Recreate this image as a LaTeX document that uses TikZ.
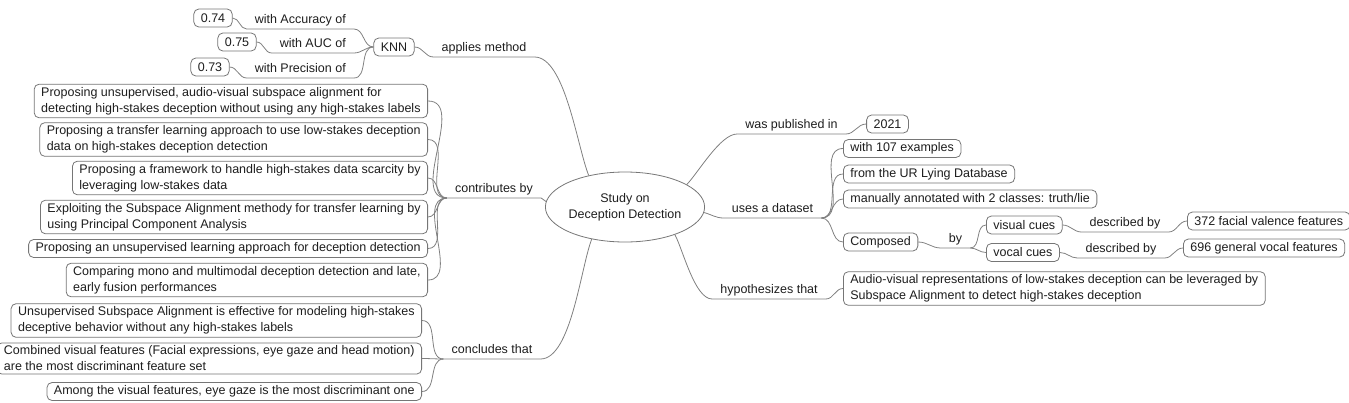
\documentclass[tikz,border=0pt]{standalone}
\usepackage{fontspec}
\setmainfont{Liberation Sans}
\usetikzlibrary{shapes.geometric}
\definecolor{linegray}{RGB}{128,128,128}
\definecolor{boxgray}{RGB}{118,118,118}
\definecolor{inkgray}{RGB}{30,30,30}
\tikzset{every node/.style={font=\fontsize{12.5}{16}\selectfont, text=inkgray},
    concept/.style={draw=boxgray, line width=0.8pt, rounded corners=5pt, fill=white,
        align=left, inner xsep=7pt, inner ysep=3pt, minimum height=18pt},
    linkword/.style={inner xsep=8pt, inner ysep=2pt, text height=9pt, text depth=3pt},
    hub/.style={ellipse, draw=boxgray, line width=0.8pt, minimum width=135pt,
        minimum height=70pt, inner sep=0pt, align=center},
    branch/.style={draw=linegray, line width=0.8pt},
    }

\begin{document}
\begin{tikzpicture}[x=1pt,y=1pt]
\useasboundingbox (0,0) rectangle (1349,-402);
\node[hub] (study) at (625,-207) {Study on\\Deception Detection};
% left: method
\node[concept] (knn) at (394,-47) {KNN};
\node[linkword, anchor=south east] (acc) at (354,-29) {with Accuracy of};
\node[concept] (v074) at (213,-18) {0.74};
\node[linkword, anchor=south east] (auc) at (354,-53) {with AUC of};
\node[concept] (v075) at (237,-42) {0.75};
\node[linkword, anchor=south east] (prec) at (354,-78) {with Precision of};
\node[concept] (v073) at (210,-67) {0.73};
\node[linkword, anchor=south] (applies) at (484,-57) {applies method};
% left: contributions
\node[linkword, anchor=south] (contrib) at (494,-198) {contributes by};
\node[concept, anchor=east] (c1) at (428,-101) {Proposing unsupervised, audio-visual subspace alignment for\\detecting high-stakes deception without using any high-stakes labels};
\node[concept, anchor=east] (c2) at (428,-139.5) {Proposing a transfer learning approach to use low-stakes deception\\data on high-stakes deception detection};
\node[concept, anchor=east] (c3) at (428,-178) {Proposing a framework to handle high-stakes data scarcity by\\leveraging low-stakes data};
\node[concept, anchor=east] (c4) at (428,-217) {Exploiting the Subspace Alignment methody for transfer learning by\\using Principal Component Analysis};
\node[concept, anchor=east] (c5) at (428,-248.5) {Proposing an unsupervised learning approach for deception detection};
\node[concept, anchor=east] (c6) at (428,-280) {Comparing mono and multimodal deception detection and late,\\early fusion performances};
% left: conclusions
\node[linkword, anchor=south] (concl) at (492,-359) {concludes that};
\node[concept, anchor=east] (k1) at (422,-320.5) {Unsupervised Subspace Alignment is effective for modeling high-stakes\\deceptive behavior without any high-stakes labels};
\node[concept, anchor=east] (k2) at (422,-358.5) {Combined visual features (Facial expressions, eye gaze and head motion)\\are the most discriminant feature set};
\node[concept, anchor=east] (k3) at (422,-391.5) {Among the visual features, eye gaze is the most discriminant one};
% right: year and dataset
\node[linkword, anchor=south] (pub) at (791.5,-134) {was published in};
\node[concept] (y2021) at (887.5,-124) {2021};
\node[linkword, anchor=south] (dataset) at (772.5,-218) {uses a dataset};
\node[concept, anchor=west] (ex107) at (843,-148.5) {with 107 examples};
\node[concept, anchor=west] (urdb) at (843,-174) {from the UR Lying Database};
\node[concept, anchor=west] (annot) at (843,-199) {manually annotated with 2 classes: truth/lie};
\node[concept, anchor=west] (composed) at (843,-242) {Composed};
\node[linkword, anchor=south] (by) at (955.5,-248) {by};
\node[concept, anchor=west] (visual) at (986,-225) {visual cues};
\node[concept, anchor=west] (vocal) at (986,-252.5) {vocal cues};
\node[linkword, anchor=south] (desc1) at (1125,-232) {described by};
\node[concept, anchor=west] (f372) at (1187,-221) {372 facial valence features};
\node[linkword, anchor=south] (desc2) at (1121,-258) {described by};
\node[concept, anchor=west] (f696) at (1183,-248) {696 general vocal features};
% right: hypothesis
\node[linkword, anchor=south] (hyp) at (769,-299) {hypothesizes that};
\node[concept, anchor=west] (av) at (843,-288.5) {Audio-visual representations of low-stakes deception can be leveraged by\\Subspace Alignment to detect high-stakes deception};

\draw[branch] (study.139) to[out=112,in=0,looseness=0.6] (applies.south east) -- (applies.south west) to[out=180,in=0] (knn.east);
\draw[branch] (knn.west) to[out=180,in=0] (acc.south east) -- (acc.south west) to[out=180,in=0] (v074.east);
\draw[branch] (knn.west) to[out=180,in=0] (auc.south east) -- (auc.south west) to[out=180,in=0] (v075.east);
\draw[branch] (knn.west) to[out=180,in=0] (prec.south east) -- (prec.south west) to[out=180,in=0] (v073.east);
\draw[branch] (study.176) to[out=180,in=0] (contrib.south east) -- (contrib.south west);
\draw[branch] (contrib.south west) to[out=180,in=0] (c1.east);
\draw[branch] (contrib.south west) to[out=180,in=0] (c2.east);
\draw[branch] (contrib.south west) to[out=180,in=0] (c3.east);
\draw[branch] (contrib.south west) to[out=180,in=0] (c4.east);
\draw[branch] (contrib.south west) to[out=180,in=0] (c5.east);
\draw[branch] (contrib.south west) to[out=180,in=0] (c6.east);
\draw[branch] (study.224) to[out=-111,in=0,looseness=0.6] (concl.south east) -- (concl.south west);
\draw[branch] (concl.south west) to[out=180,in=0] (k1.east);
\draw[branch] (concl.south west) to[out=180,in=0] (k2.east);
\draw[branch] (concl.south west) to[out=180,in=0] (k3.east);
\draw[branch] (study.20) to[out=46,in=180,looseness=0.6] (pub.south west) -- (pub.south east) to[out=0,in=180] (y2021.west);
\draw[branch] (study.-4) to[out=-15,in=180] (dataset.south west) -- (dataset.south east);
\draw[branch] (dataset.south east) to[out=0,in=180] (ex107.west);
\draw[branch] (dataset.south east) to[out=0,in=180] (urdb.west);
\draw[branch] (dataset.south east) to[out=0,in=180] (annot.west);
\draw[branch] (dataset.south east) to[out=0,in=180] (composed.west);
\draw[branch] (composed.east) to[out=0,in=180] (by.south west) -- (by.south east);
\draw[branch] (by.south east) to[out=0,in=180] (visual.west);
\draw[branch] (by.south east) to[out=0,in=180] (vocal.west);
\draw[branch] (visual.east) to[out=0,in=180] (desc1.south west) -- (desc1.south east) to[out=0,in=180] (f372.west);
\draw[branch] (vocal.east) to[out=0,in=180] (desc2.south west) -- (desc2.south east) to[out=0,in=180] (f696.west);
\draw[branch] (study.-29) to[out=-62,in=180,looseness=0.6] (hyp.south west) -- (hyp.south east) to[out=0,in=180] (av.west);
\end{tikzpicture}
\end{document}
